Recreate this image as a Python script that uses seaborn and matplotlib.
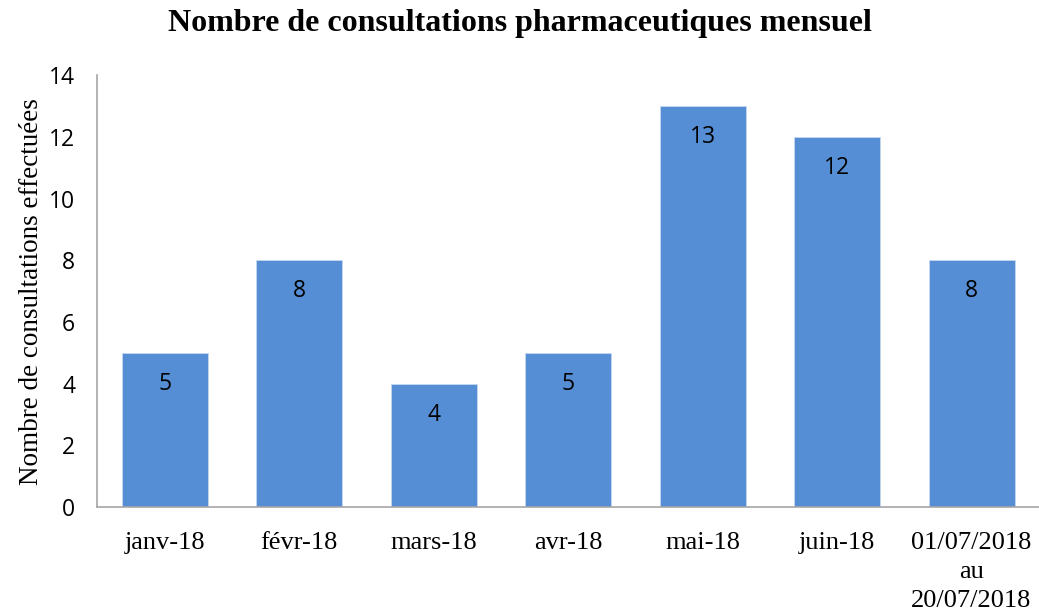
import matplotlib
matplotlib.use("Agg")
import matplotlib.pyplot as plt
import seaborn as sns
import pandas as pd

categories = ["janv-18", "févr-18", "mars-18", "avr-18", "mai-18", "juin-18",
              "01/07/2018\nau\n20/07/2018"]
values = [5, 8, 4, 5, 13, 12, 8]
yticks = [0, 2, 4, 6, 8, 10, 12, 14]

sns.set_style("white")
plt.rcParams["text.color"] = "black"
plt.rcParams["axes.labelcolor"] = "black"
plt.rcParams["xtick.color"] = "black"
plt.rcParams["ytick.color"] = "black"
df = pd.DataFrame({"mois": categories, "n": values})

fig = plt.figure(figsize=(10.39, 6.11), dpi=100)
ax = fig.add_axes([0.0938, 0.170, 0.906, 0.707])
sns.barplot(data=df, x="mois", y="n", color="#558ED5", saturation=1,
            width=0.64, ax=ax, edgecolor="#C6D9F1", linewidth=0.6)

ax.set_ylim(0, 14)
ax.set_xlim(-0.5, 6.5)
ax.set_yticks(yticks)
ax.set_yticklabels([str(t) for t in yticks], family="Open Sans", fontsize=16.5)
ax.set_xticks(range(len(categories)))
ax.set_xticklabels(categories, family="Liberation Serif", fontsize=19, linespacing=1.42)
ax.tick_params(axis="x", length=0, pad=18)
ax.tick_params(axis="y", length=0, pad=16)

for i, v in enumerate(values):
    ax.text(i, v - 1.0, str(v), ha="center", va="center",
            family="Open Sans", fontsize=16.5, color="black")

for s in ["top", "right"]:
    ax.spines[s].set_visible(False)
for s in ["left", "bottom"]:
    ax.spines[s].set_color("#A6A6A6")
    ax.spines[s].set_linewidth(1.2)

ax.set_xlabel("")
ax.set_ylabel("Nombre de consultations effectuées", family="Liberation Serif",
              fontsize=19.5, labelpad=4)
fig.suptitle("Nombre de consultations pharmaceutiques mensuel",
             family="Liberation Serif", fontweight="bold", fontsize=23, y=0.985)

fig.savefig("out.png", dpi=100)
